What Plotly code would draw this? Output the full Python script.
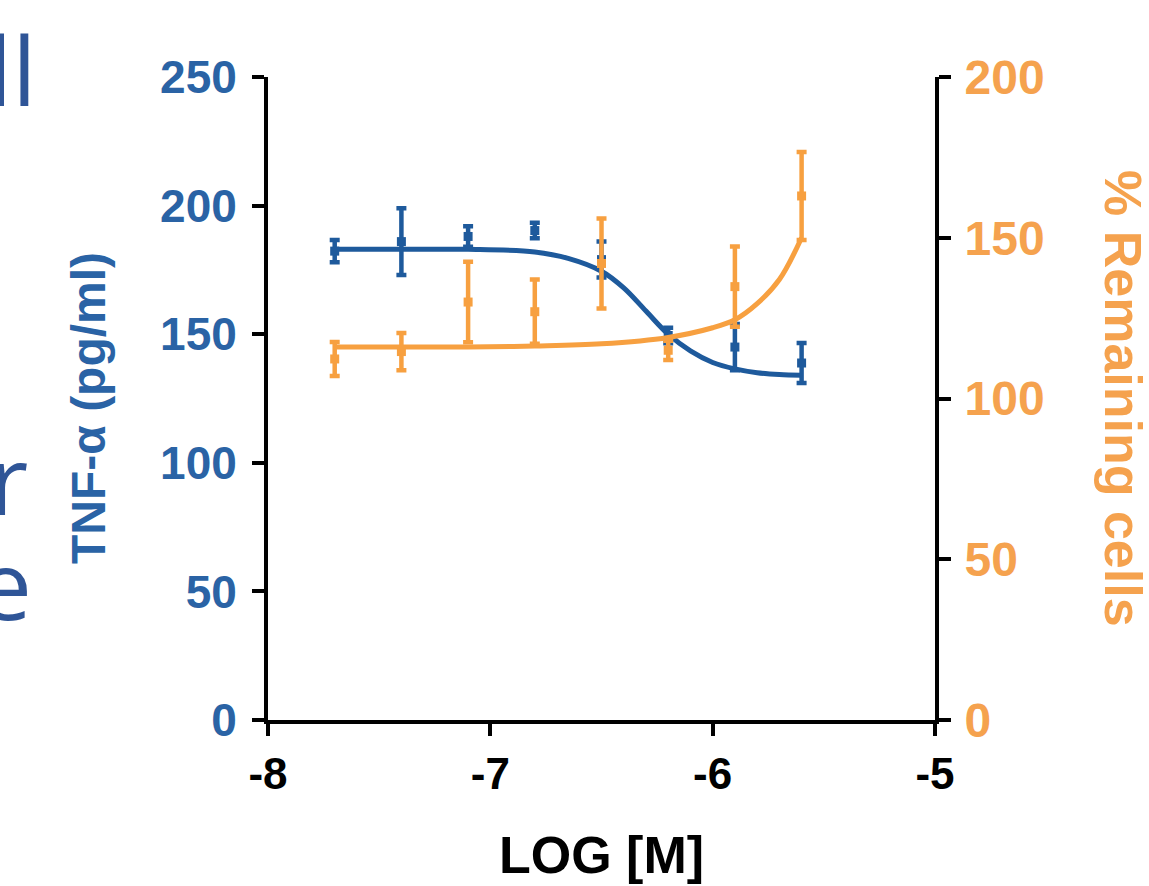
import plotly.graph_objects as go

# ---- data ----
log_conc = [-7.7, -7.4, -7.1, -6.8, -6.5, -6.2, -5.9, -5.6]

tnf_mean = [182.3, 186.0, 188.0, 190.3, 179.0, 149.5, 145.0, 138.8]
tnf_err = [4.3, 13.0, 4.0, 3.0, 7.0, 3.0, 9.0, 7.8]

cells_mean = [112.3, 114.6, 130.0, 127.0, 142.0, 115.0, 134.8, 163.0]
cells_err = [5.3, 5.8, 12.5, 10.0, 14.0, 3.0, 12.5, 13.7]

# fitted curves
tnf_fit_x = [-7.7, -7.4, -7.1, -6.8, -6.65, -6.5, -6.4, -6.3, -6.2, -6.1, -6.0, -5.9, -5.8, -5.7, -5.6]
tnf_fit_y = [183.0, 183.0, 183.0, 182.0, 179.5, 174.5, 168.0, 159.0, 150.0, 143.5, 139.0, 136.5, 135.0, 134.3, 134.0]

cells_fit_x = [-7.7, -7.4, -7.1, -6.8, -6.5, -6.2, -6.0, -5.9, -5.8, -5.7, -5.6]
cells_fit_y = [116.0, 116.0, 116.0, 116.3, 117.0, 119.0, 122.0, 124.5, 129.5, 137.0, 150.0]

x_ticks = [-8, -7, -6, -5]
left_ticks = [0, 50, 100, 150, 200, 250]
right_ticks = [0, 50, 100, 150, 200]

BLUE = "#1E5A9C"
BLUE_TXT = "#2A63A5"
ORANGE = "#F7A040"
ORANGE_TXT = "#F5A24E"
SLIDE_BLUE = "#2F5597"
FONT = "Liberation Sans, Arial, sans-serif"
SLIDE_FONT = "Open Sans, sans-serif"

W, H = 1149, 886
ML, MR, MT, MB = 268, 214, 77, 166
PW, PH = W - ML - MR, H - MT - MB


def px(xpix):
    return (xpix - ML) / PW


def py(ypix):
    return (MT + PH - ypix) / PH


fig = go.Figure()

fig.add_trace(go.Scatter(
    x=cells_fit_x, y=cells_fit_y, mode="lines", line=dict(color=ORANGE, width=5, shape="spline"),
    yaxis="y2", showlegend=False, hoverinfo="skip"))
fig.add_trace(go.Scatter(
    x=log_conc, y=cells_mean, mode="markers", yaxis="y2",
    marker=dict(symbol="square", size=9, color=ORANGE),
    error_y=dict(type="data", array=cells_err, color=ORANGE, thickness=4.5, width=5),
    showlegend=False))

fig.add_trace(go.Scatter(
    x=tnf_fit_x, y=tnf_fit_y, mode="lines", line=dict(color=BLUE, width=5, shape="spline"),
    showlegend=False, hoverinfo="skip"))
fig.add_trace(go.Scatter(
    x=log_conc, y=tnf_mean, mode="markers",
    marker=dict(symbol="square", size=9, color=BLUE),
    error_y=dict(type="data", array=tnf_err, color=BLUE, thickness=4.5, width=5),
    showlegend=False))

fig.update_layout(
    width=W, height=H,
    margin=dict(l=ML, r=MR, t=MT, b=MB),
    paper_bgcolor="white", plot_bgcolor="white",
    xaxis=dict(range=[-8, -5], tickvals=x_ticks, ticktext=[str(v) for v in x_ticks],
               showgrid=False, zeroline=False, showline=True, linecolor="black", linewidth=4,
               ticks="outside", ticklen=12, tickwidth=4, tickcolor="black",
               tickfont=dict(family=FONT, size=44, color="black", weight="bold")),
    yaxis=dict(range=[0, 250], tickvals=left_ticks, showgrid=False, zeroline=False,
               showline=True, linecolor="black", linewidth=4,
               ticks="outside", ticklen=12, tickwidth=4, tickcolor="black", ticklabelstandoff=6,
               tickfont=dict(family=FONT, size=46, color=BLUE_TXT, weight="bold")),
    yaxis2=dict(range=[0, 200], tickvals=right_ticks, overlaying="y", side="right",
                showgrid=False, zeroline=False, showline=True, linecolor="black", linewidth=4,
                ticks="outside", ticklen=12, tickwidth=4, tickcolor="black", ticklabelstandoff=4,
                tickfont=dict(family=FONT, size=48, color=ORANGE_TXT, weight="bold")),
)

annotations = [
    dict(text="TNF-α (pg/ml)", x=px(88), y=py(408), xref="paper", yref="paper", textangle=-90,
         xanchor="center", yanchor="middle",
         showarrow=False, font=dict(family=FONT, size=48, color=BLUE_TXT, weight="bold")),
    dict(text="% Remaining cells", x=px(1123), y=py(398), xref="paper", yref="paper", textangle=90,
         xanchor="center", yanchor="middle",
         showarrow=False, font=dict(family=FONT, size=52, color=ORANGE_TXT, weight="bold")),
    dict(text="LOG [M]", x=px(601), y=py(855), xref="paper", yref="paper",
         xanchor="center", yanchor="middle",
         showarrow=False, font=dict(family=FONT, size=52, color="black", weight="bold")),
    # fragments of slide text cut by the left edge
    dict(text="ll", x=px(38), y=py(69), xref="paper", yref="paper",
         xanchor="right", yanchor="middle", showarrow=False,
         font=dict(family=SLIDE_FONT, size=96, color=SLIDE_BLUE)),
    dict(text="r", x=px(-13), y=py(477), xref="paper", yref="paper",
         xanchor="left", yanchor="middle", showarrow=False,
         font=dict(family=SLIDE_FONT, size=96, color=SLIDE_BLUE)),
    dict(text="e", x=px(34), y=py(582), xref="paper", yref="paper",
         xanchor="right", yanchor="middle", showarrow=False,
         font=dict(family=SLIDE_FONT, size=96, color=SLIDE_BLUE)),
]
fig.update_layout(annotations=annotations)

fig.write_html("out.html", config={"displayModeBar": False},
               post_script="document.body.style.margin='0';")
